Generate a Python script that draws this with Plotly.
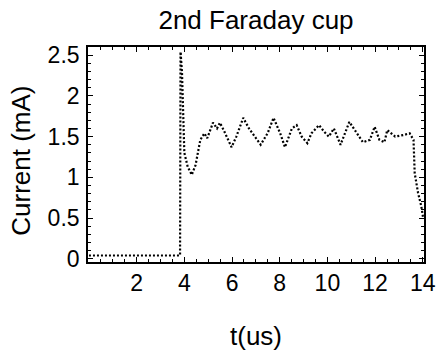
import plotly.graph_objects as go

# Faraday cup current trace (time in microseconds, current in mA)
t_us = [0.0, 1.0, 2.0, 3.0, 3.82, 3.84, 3.9, 4.0, 4.14, 4.31, 4.47, 4.67, 4.84,
        4.96, 5.2, 5.37, 5.49, 5.65, 5.98, 6.18, 6.47, 6.71, 7.0, 7.2, 7.49,
        7.74, 8.02, 8.22, 8.51, 8.71, 8.92, 9.16, 9.33, 9.65, 9.86, 10.06,
        10.27, 10.55, 10.92, 11.16, 11.49, 11.78, 11.98, 12.18, 12.39, 12.51,
        12.84, 13.2, 13.45, 13.61, 13.66, 13.8, 13.94, 14.02]
current_mA = [0.04, 0.04, 0.04, 0.04, 0.04, 2.54, 2.3, 1.3, 1.13, 1.03, 1.15, 1.46,
              1.54, 1.48, 1.67, 1.6, 1.67, 1.58, 1.37, 1.5, 1.73, 1.6, 1.48, 1.4,
              1.54, 1.73, 1.54, 1.37, 1.6, 1.64, 1.5, 1.42, 1.54, 1.64, 1.56, 1.5,
              1.6, 1.4, 1.68, 1.58, 1.43, 1.46, 1.62, 1.46, 1.43, 1.58, 1.5, 1.52,
              1.54, 1.46, 1.05, 0.81, 0.64, 0.49]

x_ticks = [2, 4, 6, 8, 10, 12, 14]
y_ticks = [0, 0.5, 1, 1.5, 2, 2.5]
y_tick_text = ["0", "0.5", "1", "1.5", "2", "2.5"]

FONT = "Liberation Sans, Arial, sans-serif"

fig = go.Figure()
fig.add_trace(go.Scatter(
    x=t_us, y=current_mA, mode="lines",
    line=dict(color="black", width=2.2, dash="2px,2px"),
    showlegend=False, hoverinfo="skip",
))

axis_common = dict(
    showline=True, linecolor="black", linewidth=1.6, mirror="ticks",
    ticks="inside", tickcolor="black", tickwidth=1, ticklen=5,
    showgrid=False, zeroline=False,
    tickfont=dict(family=FONT, size=23, color="black"),
)

fig.update_xaxes(range=[-0.04, 14.05], tickvals=x_ticks,
                 minor=dict(ticks="inside", dtick=0.5, ticklen=3,
                            tickcolor="black", tickwidth=1),
                 ticklabelstandoff=0, **axis_common)
fig.update_yaxes(range=[-0.04, 2.6], tickvals=y_ticks, ticktext=y_tick_text,
                 minor=dict(ticks="inside", dtick=0.1, ticklen=3,
                            tickcolor="black", tickwidth=1),
                 ticklabelstandoff=2, **axis_common)

fig.update_layout(
    width=448, height=352,
    margin=dict(l=88, r=15, t=47, b=90),
    paper_bgcolor="white", plot_bgcolor="white",
    title=dict(text="2nd Faraday cup", x=0.5, xref="paper",
               y=1 - 20 / 352, yref="container", yanchor="middle",
               font=dict(family=FONT, size=26, color="black")),
    annotations=[
        dict(text="t(us)", xref="paper", yref="paper", x=0.5, y=-0.345,
             xanchor="center", yanchor="middle", showarrow=False,
             font=dict(family=FONT, size=26, color="black")),
        dict(text="Current (mA)", xref="paper", yref="paper", x=-0.2, y=0.47,
             xanchor="center", yanchor="middle", showarrow=False, textangle=-90,
             font=dict(family=FONT, size=26, color="black")),
    ],
)

fig.write_html("out.html")
